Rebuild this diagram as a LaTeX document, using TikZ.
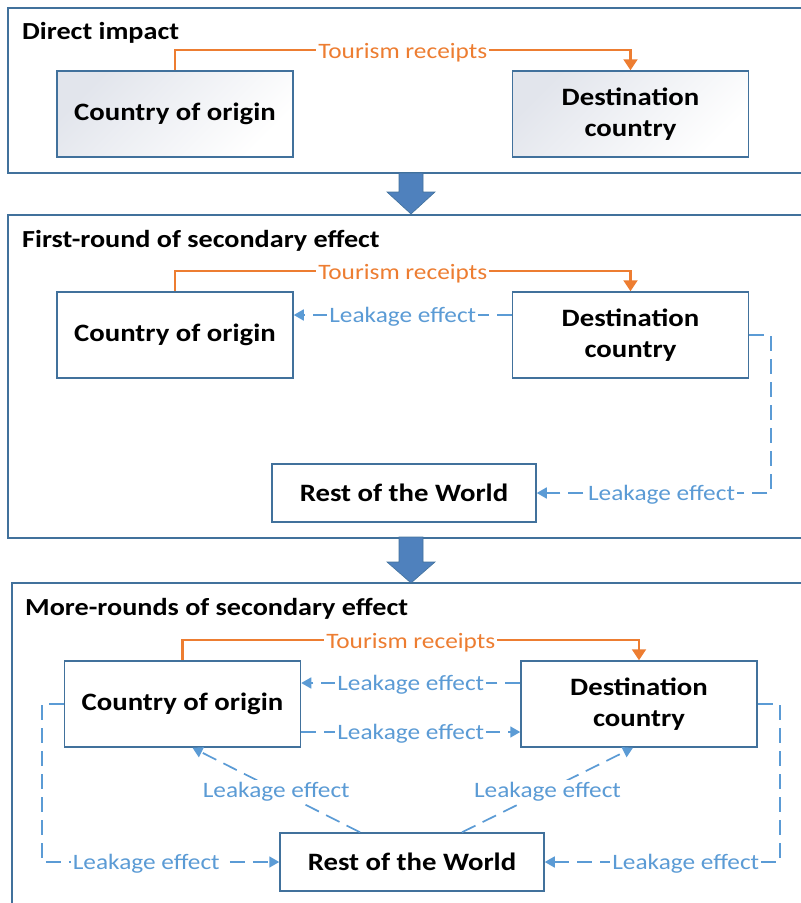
\documentclass[tikz,border=0pt]{standalone}
\usepackage{fontspec}
\setmainfont{Carlito}[FakeStretch=1.15]
\usetikzlibrary{arrows.meta}
\definecolor{receiptorange}{RGB}{237,125,49}
\definecolor{leakblue}{RGB}{91,155,213}
\definecolor{boxblue}{RGB}{65,113,156}
\definecolor{arrowblue}{RGB}{79,129,189}
\definecolor{shadegray}{RGB}{226,229,236}

\tikzset{
  panel/.style={draw=boxblue, line width=1.2pt, inner sep=0pt},
  paneltitle/.style={anchor=base west, inner sep=0pt, font=\fontsize{24.5}{26}\selectfont\bfseries},
  country/.style={draw=boxblue, line width=1.5pt, fill=white, align=center,
    inner sep=0pt, minimum width=236pt, minimum height=86pt,
    font=\fontsize{25}{31}\selectfont\bfseries},
  restbox/.style={country, minimum width=264pt, minimum height=58pt},
  shadedbox/.style={top color=shadegray, bottom color=white, shading angle=45},
  receipts/.style={draw=receiptorange, line width=2.2pt, -{Triangle[length=11pt,width=14pt]}},
  leak/.style={draw=leakblue, line width=1.7pt, dash pattern=on 15pt off 8pt,
    -{Triangle[length=10pt,width=11pt]}},
  leaklabel/.style={fill=white, inner sep=2pt, yshift=-2pt, text=leakblue, font=\fontsize{22}{24}\selectfont},
  receiptlabel/.style={fill=white, inner sep=2pt, yshift=-2pt, text=receiptorange, font=\fontsize{22}{24}\selectfont},
  blockarrow/.style={fill=arrowblue, draw=boxblue, line width=0.6pt}
}

\begin{document}
\begin{tikzpicture}[x=1pt, y=-1pt]
\useasboundingbox (0,0) rectangle (801,903);

% panels
\node[panel, minimum width=795pt, minimum height=165pt] (pa) at (405.5,90.5) {};
\node[panel, minimum width=795pt, minimum height=323pt] (pb) at (405.5,376.5) {};
\node[panel, minimum width=800pt, minimum height=340pt] (pc) at (412,753) {};

\node[paneltitle] (ta) at (22,39) {Direct impact};
\node[paneltitle] (tb) at (22,247) {First-round of secondary effect};
\node[paneltitle] (tc) at (25,615) {More-rounds of secondary effect};

% arrows between panels
\filldraw[blockarrow] (399,173) -- (423,173) -- (423,192) -- (435,192) -- (411,214) -- (387,192) -- (399,192) -- cycle;
\filldraw[blockarrow] (399,537) -- (423,537) -- (423,562) -- (435,562) -- (411,583) -- (387,562) -- (399,562) -- cycle;

% direct impact
\node[country, shadedbox] (o1) at (175,114) {Country of origin};
\node[country, shadedbox] (d1) at (630.5,114) {Destination\\country};
\draw[receipts] (o1.north) -- ++(0,-20) -| node[receiptlabel, pos=0.25] {Tourism receipts} (d1.north);

% first round
\node[country] (o2) at (175,335) {Country of origin};
\node[country] (d2) at (630.5,335) {Destination\\country};
\node[restbox] (r2) at (404,493) {Rest of the World};
\draw[receipts] (o2.north) -- ++(0,-20) -| node[receiptlabel, pos=0.25] {Tourism receipts} (d2.north);
\draw[leak] ([yshift=20pt]d2.west) -- node[leaklabel] {Leakage effect} ([yshift=20pt]o2.east);
\draw[leak] (d2.east) -- ++(22,0) |- node[leaklabel, pos=0.734] {Leakage effect} (r2.east);

% more rounds
\node[country] (o3) at (182.5,704) {Country of origin};
\node[country] (d3) at (639,704) {Destination\\country};
\node[restbox] (r3) at (412,862) {Rest of the World};
\draw[receipts] (o3.north) -- ++(0,-20) -| node[receiptlabel, pos=0.25] {Tourism receipts} (d3.north);
\draw[leak] ([yshift=21pt]d3.west) -- node[leaklabel] {Leakage effect} ([yshift=21pt]o3.east);
\draw[leak] ([yshift=-28pt]o3.east) -- node[leaklabel] {Leakage effect} ([yshift=-28pt]d3.west);
\draw[leak] (o3.west) -- ++(-22,0) |- node[leaklabel, pos=0.72] {Leakage effect} (r3.west);
\draw[leak] (d3.east) -- ++(22,0) |- node[leaklabel, pos=0.7] {Leakage effect} (r3.east);
\draw[leak] ([xshift=-52pt]r3.north) -- node[leaklabel] {Leakage effect} ([xshift=10pt]o3.south);
\draw[leak] ([xshift=50pt]r3.north) -- node[leaklabel] {Leakage effect} ([xshift=-6pt]d3.south);
\end{tikzpicture}
\end{document}
